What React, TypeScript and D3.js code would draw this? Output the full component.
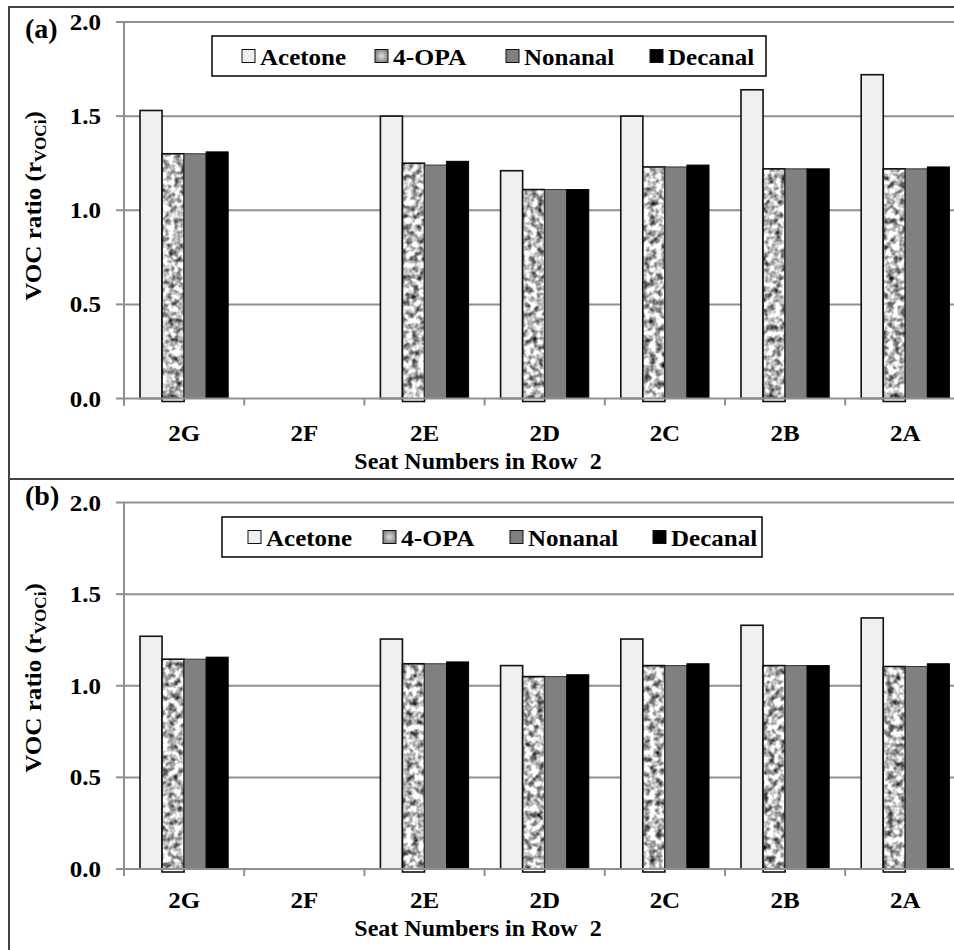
// Two stacked grouped bar charts: VOC ratio by seat in row 2
import * as d3 from "d3";
import React from "react";

const seats = ["2G", "2F", "2E", "2D", "2C", "2B", "2A"];
const compounds = ["Acetone", "4-OPA", "Nonanal", "Decanal"];
const yTicks = [0, 0.5, 1.0, 1.5, 2.0];

// panel (a)
const acetoneA = [1.53, null, 1.5, 1.21, 1.5, 1.64, 1.72];
const opaA = [1.3, null, 1.25, 1.11, 1.23, 1.22, 1.22];
const nonanalA = [1.3, null, 1.24, 1.11, 1.23, 1.22, 1.22];
const decanalA = [1.31, null, 1.26, 1.11, 1.24, 1.22, 1.23];

// panel (b)
const acetoneB = [1.27, null, 1.255, 1.11, 1.255, 1.33, 1.37];
const opaB = [1.145, null, 1.12, 1.05, 1.11, 1.11, 1.105];
const nonanalB = [1.145, null, 1.12, 1.05, 1.11, 1.11, 1.105];
const decanalB = [1.156, null, 1.13, 1.06, 1.12, 1.11, 1.12];

const FONT = "Liberation Serif, DejaVu Serif, Times New Roman, serif";
const W = 954;
const H = 950;
const X0 = 124;
const BAND = 120.2;

const fills = ["#efefef", "#b0b0b0", "#808080", "#000000"];

// Times bold advance widths (em) so the fallback serif is squeezed to the same width
const TW = {
  "0": 0.5, "1": 0.5, "2": 0.5, "4": 0.5, "5": 0.5, ".": 0.25, " ": 0.25, "\u00a0": 0.25,
  A: 0.722, B: 0.667, C: 0.722, D: 0.722, E: 0.667, F: 0.611, G: 0.778, N: 0.722, O: 0.778,
  P: 0.611, R: 0.722, S: 0.556, V: 0.722, a: 0.5, b: 0.556, c: 0.444, e: 0.444, i: 0.278,
  l: 0.278, m: 0.833, n: 0.556, o: 0.5, r: 0.444, s: 0.389, t: 0.333, u: 0.556, w: 0.722,
  "-": 0.333, "(": 0.333, ")": 0.333,
};
const tw = (s, size) => [...s].reduce((acc, ch) => acc + (TW[ch] ?? 0.5), 0) * size;

const panels = [
  {
    tag: "(a)",
    series: [acetoneA, opaA, nonanalA, decanalA],
    top: 22,
    bottom: 398.5,
    labelY: 433,
    titleY: 461,
    tagY: 29,
    yTitleY: 206,
    legend: { x: 212, y: 36, w: 554, h: 40, items: [30, 163, 294, 438] },
  },
  {
    tag: "(b)",
    series: [acetoneB, opaB, nonanalB, decanalB],
    top: 502.5,
    bottom: 869,
    labelY: 900,
    titleY: 928,
    tagY: 496,
    yTitleY: 678,
    legend: { x: 222, y: 517, w: 540, h: 40, items: [26, 161, 288, 431] },
  },
];

const x = d3
  .scaleBand()
  .domain(seats)
  .range([X0, X0 + BAND * seats.length]);

const xInner = d3
  .scaleBand()
  .domain(compounds)
  .range([16, BAND - 16]);

function T({ s, size = 25, fs = 24, ...rest }) {
  return (
    <text fontSize={fs} textLength={tw(s, size)} lengthAdjust="spacingAndGlyphs" {...rest}>
      {s}
    </text>
  );
}

function Bar({ i, xPos, y, w, h }) {
  if (i === 1) {
    return (
      <g>
        <rect x={xPos} y={y} width={w} height={h} fill="#bbb" filter="url(#granite)" />
        <rect x={xPos} y={y} width={w} height={h + 3} fill="none" stroke="#111" strokeWidth={1.6} />
      </g>
    );
  }
  const stroke = i === 0 ? "#111" : i === 2 ? "#333" : "#000";
  return (
    <rect x={xPos} y={y} width={w} height={h} fill={fills[i]} stroke={stroke} strokeWidth={i === 0 ? 1.6 : 1} />
  );
}

function Panel({ p }) {
  const y = d3.scaleLinear().domain([0, 2]).range([p.bottom, p.top]);
  const lg = p.legend;
  const t1 = "VOC ratio (r";
  const t2 = "VOCi";
  const w1 = tw(t1, 25);
  const w2 = tw(t2, 17);
  const w3 = tw(")", 25);
  const y0 = -(w1 + w2 + w3) / 2;
  return (
    <g>
      {/* gridlines */}
      {yTicks.map((t) => (
        <g key={t}>
          {t > 0 && <line x1={X0} x2={W} y1={y(t)} y2={y(t)} stroke="#8f8f8f" strokeWidth={2} />}
          <line x1={X0 - 8} x2={X0} y1={y(t)} y2={y(t)} stroke="#8f8f8f" strokeWidth={2} />
          <T s={t.toFixed(1)} x={101} y={y(t)} textAnchor="end" dominantBaseline="central" />
        </g>
      ))}
      <line x1={X0} x2={X0} y1={p.top} y2={p.bottom + 7} stroke="#8f8f8f" strokeWidth={2} />

      {/* bars */}
      {p.series.map((vals, i) =>
        vals.map((v, j) =>
          v == null ? null : (
            <Bar
              key={`${i}-${j}`}
              i={i}
              xPos={x(seats[j]) + xInner(compounds[i])}
              y={y(v)}
              w={xInner.bandwidth()}
              h={y(0) - y(v)}
            />
          )
        )
      )}

      {/* x axis */}
      <line x1={X0} x2={W} y1={y(0)} y2={y(0)} stroke="#8f8f8f" strokeWidth={2} />
      {seats.map((s) => (
        <line key={s} x1={x(s)} x2={x(s)} y1={y(0)} y2={y(0) + 7} stroke="#8f8f8f" strokeWidth={2} />
      ))}
      {seats.map((s) => (
        <T key={s} s={s} x={x(s) + x.bandwidth() / 2} y={p.labelY} textAnchor="middle" dominantBaseline="central" />
      ))}
      <T s={"Seat Numbers in Row\u00a0\u00a02"} size={24} x={478} y={p.titleY} textAnchor="middle" dominantBaseline="central" />

      {/* y title */}
      <g transform={`translate(41,${p.yTitleY}) rotate(-90)`}>
        <T s={t1} x={y0} y={0} />
        <T s={t2} size={17} fs={16} x={y0 + w1} y={5} />
        <T s=")" x={y0 + w1 + w2} y={0} />
      </g>
      <T s={p.tag} size={28} fs={27} x={25} y={p.tagY} dominantBaseline="central" />

      {/* legend */}
      <rect x={lg.x} y={lg.y} width={lg.w} height={lg.h} fill="#fff" stroke="#000" strokeWidth={1.5} />
      {compounds.map((c, i) => {
        const mx = lg.x + lg.items[i];
        const my = lg.y + lg.h / 2;
        return (
          <g key={c}>
            <rect x={mx} y={my - 6.5} width={13} height={13} fill={i === 1 ? "url(#legGrad)" : fills[i]} stroke="#111" strokeWidth={1} />
            <T s={c} x={mx + 18} y={my + 1} dominantBaseline="central" />
          </g>
        );
      })}
    </g>
  );
}

export default function App() {
  return (
    <div style={{ position: "absolute", left: 0, top: 0 }}>
      <svg
        width={W}
        height={H}
        style={{ display: "block", background: "#fff", fontFamily: FONT, fontWeight: "bold" }}
      >
        <defs>
          <filter id="granite" x="0" y="0" width="1" height="1" colorInterpolationFilters="sRGB">
            <feTurbulence type="fractalNoise" baseFrequency="0.16" numOctaves={2} seed={4} result="n" />
            <feColorMatrix
              in="n"
              type="matrix"
              values="1.8 0 0 0 -0.16  1.8 0 0 0 -0.16  1.8 0 0 0 -0.16  0 0 0 0 1"
              result="g"
            />
            <feComposite in="g" in2="SourceGraphic" operator="in" />
          </filter>
          <radialGradient id="legGrad">
            <stop offset="0%" stopColor="#e0e0e0" />
            <stop offset="100%" stopColor="#888" />
          </radialGradient>
        </defs>
        {panels.map((p) => (
          <Panel key={p.tag} p={p} />
        ))}
        {/* outer frame */}
        <line x1={8} x2={W} y1={7} y2={7} stroke="#444" strokeWidth={2} />
        <line x1={9} x2={9} y1={7} y2={H} stroke="#444" strokeWidth={2} />
        <line x1={8} x2={W} y1={479} y2={479} stroke="#444" strokeWidth={2} />
      </svg>
    </div>
  );
}
